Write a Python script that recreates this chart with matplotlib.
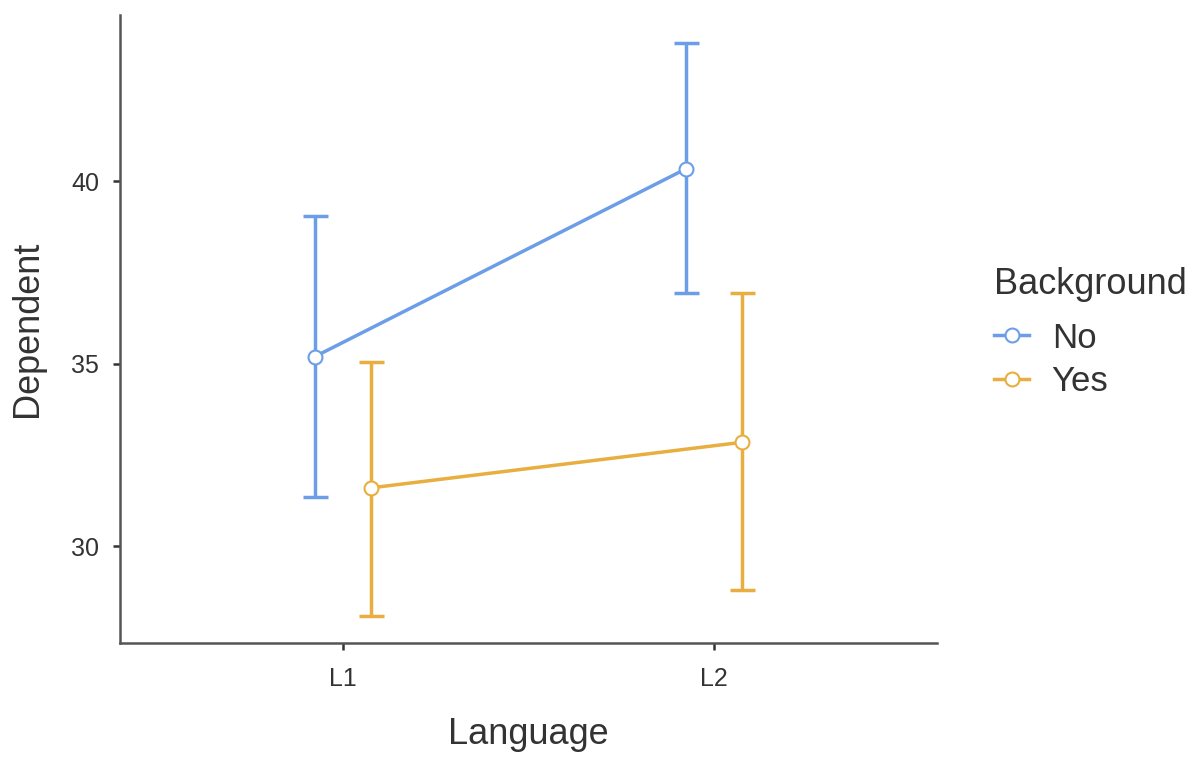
import matplotlib.pyplot as plt
import numpy as np

plt.rcParams['font.family'] = ['Liberation Sans', 'DejaVu Sans']

# Data
languages = ["L1", "L2"]
groups = ["No", "Yes"]
means = {"No": [35.2, 40.35], "Yes": [31.6, 32.85]}
upper = {"No": [39.05, 43.8], "Yes": [35.05, 36.95]}
lower = {"No": [31.35, 36.95], "Yes": [28.1, 28.8]}
colors = {"No": "#6c9ee8", "Yes": "#e8ae40"}
dodge = {"No": -0.075, "Yes": 0.075}

fig = plt.figure(figsize=(12, 7.65), dpi=100)
ax = fig.add_axes([0.1, 0.1595, 0.681, 0.8205])

x = np.arange(1, len(languages) + 1)
for g in groups:
    xs = x + dodge[g]
    m = np.array(means[g])
    err = [m - np.array(lower[g]), np.array(upper[g]) - m]
    ax.errorbar(xs, m, yerr=err, fmt="none", ecolor=colors[g],
                elinewidth=2.5, capsize=9, capthick=2.5, zorder=2)
    ax.plot(xs, m, color=colors[g], lw=2.5, marker="o", ms=10,
            mfc="white", mec=colors[g], mew=1.5, label=g, zorder=3)

ax.set_xlim(0.4, 2.6)
ax.set_ylim(27.35, 44.55)
ax.set_xticks(x)
ax.set_xticklabels(languages)
ax.set_yticks([30, 35, 40])

for s in ["top", "right"]:
    ax.spines[s].set_visible(False)
for s in ["left", "bottom"]:
    ax.spines[s].set_color("#555555")
    ax.spines[s].set_linewidth(1.8)
ax.tick_params(colors="#333333", labelsize=18, width=1.8, length=5, pad=10)
ax.tick_params(axis="x", pad=12)

ax.set_xlabel("Language", fontsize=26, color="#333333", labelpad=19)
ax.set_ylabel("Dependent", fontsize=26, color="#333333", labelpad=19)

leg = ax.legend(title="Background", loc="upper left",
                bbox_to_anchor=(1.053, 0.621), frameon=False,
                fontsize=25, title_fontsize=26, handlelength=1.0,
                handletextpad=0.65, labelspacing=0.3, borderaxespad=0)
leg._legend_box.align = "left"
leg._legend_box.sep = 14
leg.get_title().set_color("#333333")
for t in leg.get_texts():
    t.set_color("#333333")

fig.savefig("out.png", dpi=100)
